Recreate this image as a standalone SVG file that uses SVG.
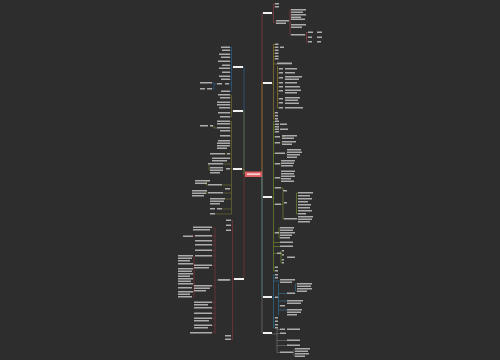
<svg xmlns="http://www.w3.org/2000/svg" width="500" height="360" viewBox="0 0 500 360">
<style>
.t{fill:#d0d0d0;opacity:0.78}
.m{fill:#f0f0f0}
.c{fill:none;stroke-width:0.7}
.dr{stroke:#8a3f46}.yl{stroke:#8c7a2c}.gr{stroke:#6f8a2e}.bl{stroke:#2e6d8c}.gy{stroke:#707070}.lb{stroke:#2d5f8c}.ol{stroke:#6f6c2e}.ld{stroke:#7d3539}
</style>
<rect width="500" height="360" fill="#2d2d2d"/>
<g id="connectors">
<path class="c dr" d="M262 174V13H263"/>
<path class="c yl" d="M262 174V83H263"/>
<path class="c gr" d="M262 174V197H263"/>
<path class="c bl" d="M262 174V297H263"/>
<path class="c gy" d="M262 174V333H263"/>
<path class="c lb" d="M245 174H244V67H243"/>
<path class="c ol" d="M245 174H244V111H243"/>
<path class="c ol" d="M245 174H244V169H242"/>
<path class="c ld" d="M245 174H244V279H243"/>
<path class="c dr" d="M272 14H273.5M273.5 3.5V22.5M273.5 4.5H275M273.5 7H275M273.5 22.5H276M289 23H290M290 9.5V35M290 10H291M290 15H291M290 19H291M290 25H291M290 35H291M305 35H306.5M306.5 32V42M306.5 32.5H308M306.5 37.5H308M306.5 42H308"/>
<path class="c yl" d="M272 84H273.5M273.5 44V119M273.5 44.5H275M273.5 47.5H275M273.5 50.5H275M273.5 53.5H275M273.5 56.5H275M273.5 59H275M273.5 64H277M277.5 66V108M277.5 69H279M277.5 73H279M277.5 78H279M277.5 83H279M277.5 87H279M277.5 91H279M277.5 94H279M277.5 99H279M277.5 103H279M277.5 108H279M273.5 113H275M273.5 116H275M273.5 119H275"/>
<path class="c gr" d="M272 198H273.5M273.5 121V271M273.5 121.5H275M273.5 124.5H275M273.5 127H275M273.5 129.5H275M273.5 132H275M273.5 137H275M273.5 143H275M273.5 153.5H275M273.5 164H275M273.5 178H275M273.5 188H275M273.5 204.5H275M273.5 233H275M273.5 242.5H280M273.5 246.5H280M273.5 253.5H277M273.5 267.5H275M273.5 271H275M281 188H283V191M281 204.5H283M283 192V219M283 203H284M283 219H284M285 136.5H282M281 143H282M286 153.5H287M280 164H281M280 178H281M296.5 193V214M296.5 193H298M296.5 214H298M297 219H298M279 228V238M279 228H280M279 238H280M282 253.5H281M281 251V263M281 251H282M281 255H282M281 260H282M281 263H282"/>
<path class="c bl" d="M272 298H273.5M273.5 274V328M273.5 275H275M273.5 278H275M273.5 281H280M273.5 297.5H275M278 297.5H278.5M278.5 283V315M278.5 293.5H287M278.5 301H287M278.5 306H280M278.5 310H287M295 293.5H295.5M295.5 284V291M295.5 284H297M295.5 291H297M273.5 318H275M273.5 321.5H275M273.5 325H275M273.5 328H275"/>
<path class="c gy" d="M272 334H277M277 329.5V352.5M277 329.5H280M277 333.5H280M277 340.5H287M277 345.5H287M277 352.5H280M293 352.5H294M294 349V356M294 349H295M294 356H295"/>
<path class="c lb" d="M233 67H231.5M231.5 47V91M231.5 47.5H230M231.5 50.5H230M231.5 54.5H230M231.5 57.5H230M231.5 61.5H230M231.5 65.5H230M231.5 68.5H230M231.5 72.5H230M231.5 76.5H230M231.5 79.5H230M231.5 84H229M231.5 91.5H230M217 84H214M214 83V89M214 83H212M214 89H212"/>
<path class="c ol" d="M233 111H231.5M231.5 95V117M231.5 95H230M231.5 98H230M231.5 102.5H230M231.5 105H230M231.5 108H230M231.5 113H230M231.5 117H230"/>
<path class="c ol" d="M233 169H231.5M231.5 121V214M231.5 121.5H230M231.5 124H230M231.5 128H230M231.5 131H230M231.5 136H230M231.5 141H230M231.5 144H230M231.5 154H230M231.5 158.5H230M231.5 164H223M231.5 168.5H230M231.5 185H222M231.5 189H230M231.5 193H223M231.5 199H225M231.5 209H222M231.5 214H215M217 128H214M214 126V128M214 126H211M225 154H227M208 164H209M210 170H209M209 165V170M208 185H206M206 181V185M206 181H210M208 193H206M206 191V194M206 191H207"/>
<path class="c ld" d="M234 279H232.5M232.5 220V340M232.5 220.5H231M232.5 225.5H231M232.5 230.5H231M232.5 280H230M232.5 336H231M232.5 339.5H231M218 280H215M215 228V333M215 228H212M215 236H212M215 241H212M215 245H212M215 250.5H212M215 256H212M215 265.5H212M215 286H212M215 302.5H212M215 308H212M215 313.5H212M215 318.5H212M215 325.5H212M215 333H212M195 236H193M194 256V297M194 256H193M194 264H193M194 269H193M194 274H193M194 279H193M194 284H193M194 288H193M194 292H193M194 297H193"/>
</g>
<g id="n-center"><rect x="245" y="171.5" width="17" height="5.5" fill="#e15e63"/><rect x="247" y="173.3" width="13" height="1.8" fill="#f7d0d0"/></g>
<g id="n-r1">
<rect class="m" x="263" y="12" width="9" height="2"/>
<rect class="t" x="275" y="3" width="4" height="1.5"/><rect class="t" x="275" y="6" width="4" height="1.5"/>
<rect class="t" x="276" y="20" width="13" height="1.5"/><rect class="t" x="276" y="22.5" width="10" height="1.5"/>
<rect class="t" x="291" y="9" width="15" height="1.5"/><rect class="t" x="291" y="11.5" width="12" height="1.5"/><rect class="t" x="291" y="14" width="15" height="1.5"/><rect class="t" x="291" y="16.5" width="10" height="1.5"/><rect class="t" x="291" y="18.5" width="14" height="1.5"/><rect class="t" x="291" y="24" width="15" height="1.5"/><rect class="t" x="291" y="26.5" width="11" height="1.5"/><rect class="t" x="291" y="34" width="14" height="1.5"/>
<rect class="t" x="308" y="31.5" width="5" height="1.5"/><rect class="t" x="317" y="31.5" width="5" height="1.5"/><rect class="t" x="308" y="36.5" width="4" height="1.5"/><rect class="t" x="317" y="36.5" width="5" height="1.5"/><rect class="t" x="308" y="41" width="4" height="1.5"/><rect class="t" x="317" y="41" width="4" height="1.5"/>
</g>
<g id="n-r2">
<rect class="m" x="263" y="82" width="9" height="2"/>
<rect class="t" x="275" y="43.5" width="3.5" height="1.5"/><rect class="t" x="275" y="46.5" width="3.5" height="1.5"/><rect class="t" x="280" y="46.5" width="4" height="1.5"/><rect class="t" x="275" y="49.5" width="3.5" height="1.5"/><rect class="t" x="275" y="52.5" width="3.5" height="1.5"/><rect class="t" x="275" y="55.5" width="3.5" height="1.5"/><rect class="t" x="275" y="58" width="3.5" height="1.5"/>
<rect class="t" x="277" y="62.5" width="15" height="1.8"/>
<rect class="t" x="279" y="68" width="4" height="1.5"/><rect class="t" x="285" y="68" width="12" height="1.5"/>
<rect class="t" x="279" y="72" width="4" height="1.5"/><rect class="t" x="285" y="72" width="10" height="1.5"/>
<rect class="t" x="279" y="77" width="4" height="1.5"/><rect class="t" x="285" y="76" width="17" height="1.5"/><rect class="t" x="285" y="78.5" width="14" height="1.5"/>
<rect class="t" x="279" y="82" width="4" height="1.5"/><rect class="t" x="285" y="82" width="12" height="1.5"/>
<rect class="t" x="279" y="86" width="4" height="1.5"/><rect class="t" x="285" y="86" width="15" height="1.5"/>
<rect class="t" x="279" y="90" width="4" height="1.5"/><rect class="t" x="285" y="89.5" width="16" height="1.5"/><rect class="t" x="285" y="92" width="12" height="1.5"/>
<rect class="t" x="279" y="98" width="4" height="1.5"/><rect class="t" x="285" y="97" width="15" height="1.5"/><rect class="t" x="285" y="99.5" width="13" height="1.5"/>
<rect class="t" x="279" y="102" width="4" height="1.5"/><rect class="t" x="285" y="102.5" width="14" height="1.5"/>
<rect class="t" x="279" y="107" width="4" height="1.5"/><rect class="t" x="285" y="107" width="18" height="1.5"/>
<rect class="t" x="275" y="112" width="3" height="1.5"/><rect class="t" x="275" y="115" width="3" height="1.5"/><rect class="t" x="275" y="118" width="3" height="1.5"/>
</g>
<g id="n-r3">
<rect class="m" x="263" y="196" width="9" height="2"/>
<rect class="t" x="275" y="120.5" width="4" height="1.5"/><rect class="t" x="275" y="123.5" width="4" height="1.5"/><rect class="t" x="280" y="123.5" width="7" height="1.5"/><rect class="t" x="275" y="126" width="4" height="1.5"/><rect class="t" x="275" y="128.5" width="4" height="1.5"/><rect class="t" x="280" y="128.5" width="8" height="1.5"/><rect class="t" x="275" y="131" width="4" height="1.5"/>
<rect class="t" x="275" y="136" width="5" height="1.5"/><rect class="t" x="282" y="135" width="15" height="1.5"/><rect class="t" x="282" y="137.5" width="12" height="1.5"/>
<rect class="t" x="275" y="142" width="5" height="1.5"/><rect class="t" x="282" y="141" width="14" height="1.5"/><rect class="t" x="282" y="143.5" width="10" height="1.5"/>
<rect class="t" x="275" y="152.5" width="10" height="1.5"/><rect class="t" x="287" y="149" width="14" height="1.5"/><rect class="t" x="287" y="151.5" width="15" height="1.5"/><rect class="t" x="287" y="154" width="13" height="1.5"/><rect class="t" x="287" y="156.5" width="10" height="1.5"/>
<rect class="t" x="275" y="163" width="5" height="1.5"/><rect class="t" x="281" y="160" width="14" height="1.5"/><rect class="t" x="281" y="162.5" width="13" height="1.5"/><rect class="t" x="281" y="165" width="12" height="1.5"/>
<rect class="t" x="275" y="177" width="5" height="1.5"/><rect class="t" x="281" y="170.5" width="14" height="1.5"/><rect class="t" x="281" y="173" width="13" height="1.5"/><rect class="t" x="281" y="175.5" width="14" height="1.5"/><rect class="t" x="281" y="178" width="10" height="1.5"/><rect class="t" x="281" y="180.5" width="13" height="1.5"/>
<rect class="t" x="275" y="187" width="6" height="1.5"/><rect class="t" x="283" y="190" width="4" height="1.5"/>
<rect class="t" x="275" y="203.5" width="6" height="1.5"/><rect class="t" x="284" y="202" width="3" height="1.5"/>
<rect class="t" x="298" y="192" width="15" height="1.5"/><rect class="t" x="298" y="195" width="12" height="1.5"/><rect class="t" x="298" y="198" width="14" height="1.5"/><rect class="t" x="298" y="201" width="10" height="1.5"/><rect class="t" x="298" y="204" width="13" height="1.5"/><rect class="t" x="298" y="207" width="12" height="1.5"/><rect class="t" x="298" y="210" width="14" height="1.5"/><rect class="t" x="298" y="213" width="8" height="1.5"/>
<rect class="t" x="284" y="218" width="13" height="1.5"/><rect class="t" x="298" y="216" width="15" height="1.5"/><rect class="t" x="298" y="218.5" width="14" height="1.5"/><rect class="t" x="298" y="221" width="12" height="1.5"/>
<rect class="t" x="275" y="232" width="4" height="1.5"/><rect class="t" x="280" y="227" width="14" height="1.5"/><rect class="t" x="280" y="229.5" width="13" height="1.5"/><rect class="t" x="280" y="232" width="15" height="1.5"/><rect class="t" x="280" y="234.5" width="12" height="1.5"/><rect class="t" x="280" y="237" width="10" height="1.5"/>
<rect class="t" x="280" y="241.5" width="13" height="1.5"/><rect class="t" x="280" y="245.5" width="13" height="1.5"/>
<rect class="t" x="277" y="252.5" width="4" height="1.5"/><rect class="t" x="282" y="250" width="2" height="1.5"/><rect class="t" x="282" y="254" width="2" height="1.5"/><rect class="t" x="287" y="256.5" width="8" height="1.5"/><rect class="t" x="282" y="259" width="2" height="1.5"/><rect class="t" x="282" y="262" width="2" height="1.5"/>
<rect class="t" x="275" y="266.5" width="3" height="1.5"/><rect class="t" x="275" y="270" width="3" height="1.5"/>
</g>
<g id="n-r4">
<rect class="m" x="263" y="296" width="9" height="2"/>
<rect class="t" x="275" y="274" width="3" height="1.5"/><rect class="t" x="275" y="277" width="3" height="1.5"/>
<rect class="t" x="280" y="279" width="15" height="1.5"/><rect class="t" x="280" y="281.5" width="12" height="1.5"/>
<rect class="t" x="275" y="296.5" width="3" height="1.5"/>
<rect class="t" x="287" y="292.5" width="8" height="1.5"/><rect class="t" x="297" y="283" width="15" height="1.5"/><rect class="t" x="297" y="285.5" width="14" height="1.5"/><rect class="t" x="297" y="288" width="15" height="1.5"/><rect class="t" x="297" y="290.5" width="10" height="1.5"/>
<rect class="t" x="287" y="300" width="16" height="1.5"/><rect class="t" x="287" y="302.5" width="14" height="1.5"/>
<rect class="t" x="280" y="305" width="5" height="1.5"/>
<rect class="t" x="287" y="309" width="15" height="1.5"/><rect class="t" x="287" y="311.5" width="14" height="1.5"/><rect class="t" x="287" y="314" width="10" height="1.5"/>
<rect class="t" x="275" y="317" width="3" height="1.5"/><rect class="t" x="275" y="320.5" width="3" height="1.5"/><rect class="t" x="275" y="324" width="3" height="1.5"/><rect class="t" x="275" y="327" width="3" height="1.5"/>
</g>
<g id="n-r5">
<rect class="m" x="263" y="332" width="9" height="2"/>
<rect class="t" x="280" y="328.5" width="5" height="1.5"/><rect class="t" x="287" y="328.5" width="13" height="1.5"/>
<rect class="t" x="280" y="332.5" width="6" height="1.5"/>
<rect class="t" x="287" y="339.5" width="13" height="1.5"/><rect class="t" x="287" y="344.5" width="13" height="1.5"/>
<rect class="t" x="280" y="351.5" width="13" height="1.5"/>
<rect class="t" x="295" y="348" width="15" height="1.5"/><rect class="t" x="295" y="350.5" width="13" height="1.5"/><rect class="t" x="295" y="353" width="14" height="1.5"/><rect class="t" x="295" y="355.5" width="10" height="1.5"/>
</g>
<g id="n-l1">
<rect class="m" x="233" y="66" width="10" height="2"/>
<rect class="t" x="221" y="46.5" width="9" height="1.5"/><rect class="t" x="222" y="49.5" width="8" height="1.5"/><rect class="t" x="219" y="53.5" width="11" height="1.5"/><rect class="t" x="221" y="56.5" width="9" height="1.5"/><rect class="t" x="218" y="60.5" width="12" height="1.5"/><rect class="t" x="222" y="64.5" width="8" height="1.5"/><rect class="t" x="219" y="67.5" width="11" height="1.5"/><rect class="t" x="222" y="71.5" width="8" height="1.5"/><rect class="t" x="219" y="75.5" width="11" height="1.5"/><rect class="t" x="221" y="78.5" width="9" height="1.5"/>
<rect class="t" x="217" y="83" width="5" height="1.5"/><rect class="t" x="225" y="83" width="4" height="1.5"/>
<rect class="t" x="200" y="82" width="12" height="1.5"/><rect class="t" x="200" y="88" width="5" height="1.5"/><rect class="t" x="207" y="88" width="5" height="1.5"/>
<rect class="t" x="221" y="90.5" width="9" height="1.5"/>
</g>
<g id="n-l2">
<rect class="m" x="233" y="110" width="10" height="2"/>
<rect class="t" x="218" y="94" width="12" height="1.5"/><rect class="t" x="220" y="97" width="10" height="1.5"/><rect class="t" x="217" y="101.5" width="13" height="1.5"/><rect class="t" x="217" y="104" width="13" height="1.5"/><rect class="t" x="219" y="107" width="11" height="1.5"/><rect class="t" x="218" y="112" width="12" height="1.5"/><rect class="t" x="220" y="116" width="10" height="1.5"/>
</g>
<g id="n-l3">
<rect class="m" x="233" y="168" width="9" height="2"/>
<rect class="t" x="217" y="120.5" width="13" height="1.5"/><rect class="t" x="217" y="123" width="13" height="1.5"/>
<rect class="t" x="200" y="125" width="8" height="1.5"/><rect class="t" x="210" y="125" width="3" height="1.5"/>
<rect class="t" x="217" y="127" width="13" height="1.5"/><rect class="t" x="220" y="130" width="10" height="1.5"/><rect class="t" x="220" y="135" width="10" height="1.5"/><rect class="t" x="218" y="140" width="12" height="1.5"/>
<rect class="t" x="217" y="142.5" width="13" height="1.5"/><rect class="t" x="217" y="145" width="13" height="1.5"/><rect class="t" x="217" y="147.5" width="10" height="1.5"/>
<rect class="t" x="210" y="153" width="15" height="1.5"/><rect class="t" x="227" y="153" width="3" height="1.5"/>
<rect class="t" x="212" y="157.5" width="18" height="1.5"/><rect class="t" x="212" y="160" width="15" height="1.5"/>
<rect class="t" x="208" y="163" width="15" height="1.5"/>
<rect class="t" x="210" y="167" width="13" height="1.5"/><rect class="t" x="210" y="169.5" width="13" height="1.5"/><rect class="t" x="210" y="172" width="10" height="1.5"/><rect class="t" x="226" y="168" width="4" height="1.5"/>
<rect class="t" x="195" y="180" width="15" height="1.5"/><rect class="t" x="195" y="182.5" width="12" height="1.5"/><rect class="t" x="208" y="184" width="14" height="1.5"/>
<rect class="t" x="225" y="188" width="5" height="1.5"/>
<rect class="t" x="192" y="190" width="15" height="1.5"/><rect class="t" x="192" y="192.5" width="14" height="1.5"/><rect class="t" x="192" y="195" width="12" height="1.5"/><rect class="t" x="208" y="192" width="15" height="1.5"/>
<rect class="t" x="210" y="198" width="15" height="1.5"/><rect class="t" x="210" y="200.5" width="14" height="1.5"/><rect class="t" x="210" y="203" width="10" height="1.5"/>
<rect class="t" x="210" y="208" width="5" height="1.5"/><rect class="t" x="217" y="208" width="5" height="1.5"/><rect class="t" x="210" y="213" width="5" height="1.5"/>
</g>
<g id="n-l4">
<rect class="m" x="234" y="278" width="10" height="2"/>
<rect class="t" x="226" y="219.5" width="5" height="1.5"/><rect class="t" x="226" y="224.5" width="5" height="1.5"/><rect class="t" x="226" y="229.5" width="5" height="1.5"/>
<rect class="t" x="218" y="279" width="12" height="1.8"/>
<rect class="t" x="225" y="335" width="6" height="1.5"/><rect class="t" x="225" y="338.5" width="6" height="1.5"/>
<rect class="t" x="193" y="226.5" width="19" height="1.5"/><rect class="t" x="193" y="229" width="17" height="1.5"/>
<rect class="t" x="195" y="235" width="17" height="1.5"/><rect class="t" x="195" y="240" width="17" height="1.5"/><rect class="t" x="195" y="244" width="17" height="1.5"/><rect class="t" x="195" y="249.5" width="17" height="1.5"/><rect class="t" x="195" y="255" width="17" height="1.5"/>
<rect class="t" x="194" y="264.5" width="18" height="1.5"/><rect class="t" x="194" y="267" width="15" height="1.5"/>
<rect class="t" x="194" y="285" width="18" height="1.5"/><rect class="t" x="194" y="287.5" width="16" height="1.5"/><rect class="t" x="194" y="290" width="12" height="1.5"/>
<rect class="t" x="194" y="301.5" width="18" height="1.5"/><rect class="t" x="194" y="304" width="14" height="1.5"/>
<rect class="t" x="194" y="307" width="18" height="1.5"/><rect class="t" x="194" y="312.5" width="18" height="1.5"/>
<rect class="t" x="194" y="317.5" width="18" height="1.5"/><rect class="t" x="194" y="320" width="15" height="1.5"/>
<rect class="t" x="194" y="324.5" width="18" height="1.5"/><rect class="t" x="194" y="327" width="14" height="1.5"/>
<rect class="t" x="190" y="332" width="22" height="1.5"/>
<rect class="t" x="183" y="235.5" width="10" height="1.5"/>
<rect class="t" x="178" y="255" width="15" height="1.5"/><rect class="t" x="178" y="257.5" width="14" height="1.5"/><rect class="t" x="178" y="260" width="12" height="1.5"/>
<rect class="t" x="178" y="263" width="15" height="1.5"/>
<rect class="t" x="178" y="268" width="15" height="1.5"/><rect class="t" x="178" y="270.5" width="14" height="1.5"/><rect class="t" x="178" y="273" width="15" height="1.5"/><rect class="t" x="178" y="275.5" width="12" height="1.5"/><rect class="t" x="178" y="278" width="15" height="1.5"/><rect class="t" x="178" y="280.5" width="13" height="1.5"/><rect class="t" x="178" y="283" width="15" height="1.5"/><rect class="t" x="178" y="287" width="14" height="1.5"/><rect class="t" x="178" y="291" width="15" height="1.5"/><rect class="t" x="178" y="293.5" width="12" height="1.5"/><rect class="t" x="178" y="296" width="14" height="1.5"/>
</g>
</svg>
